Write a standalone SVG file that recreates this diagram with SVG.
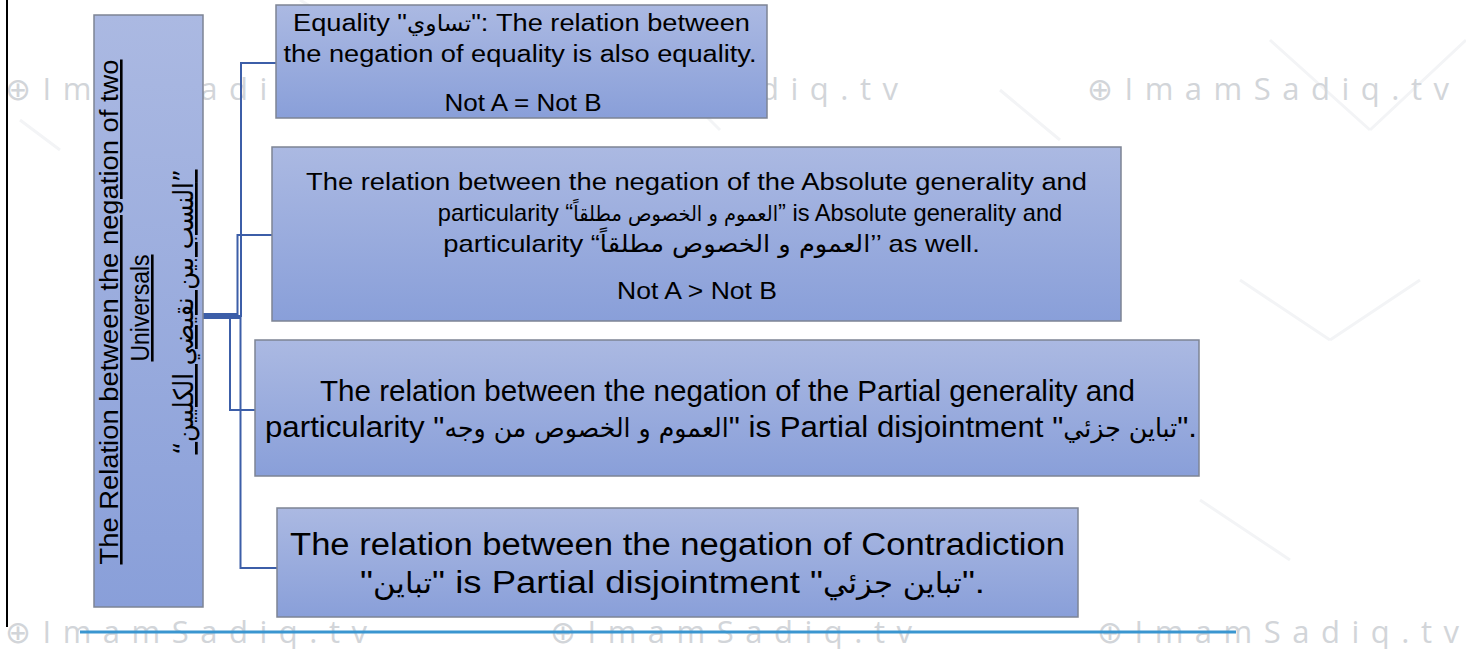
<svg xmlns="http://www.w3.org/2000/svg" width="1466" height="649" viewBox="0 0 1466 649">
<defs>
<linearGradient id="g" x1="0" y1="0" x2="0" y2="1">
<stop offset="0" stop-color="#abb9e2"/>
<stop offset="1" stop-color="#899fd9"/>
</linearGradient>
<style>
.box{fill:url(#g);stroke:#7d8494;stroke-width:1.5}
.t{font-family:"Liberation Sans","DejaVu Sans",sans-serif;fill:#000;text-anchor:middle}
.ar{font-family:"DejaVu Sans Condensed","DejaVu Sans",sans-serif;font-stretch:condensed}
.c{fill:none;stroke:#3c5ea8;stroke-width:2}
.wm{font-family:"Open Sans","Liberation Sans",sans-serif;font-size:31px;fill:#d2d5d9}
.bg{stroke:#f3f4f6;stroke-width:3;fill:none}
</style>
</defs>
<rect width="1466" height="649" fill="#fff"/>
<g id="background">
<path class="bg" d="M300 0 L350 30 M680 90 L720 130 M1270 40 L1370 130 M1370 130 L1466 40 M20 120 L60 150 M1000 90 L1060 140 M1240 280 L1330 340 M1330 340 L1420 280 M1200 500 L1290 560"/>
</g>
<g id="watermarks">
<text class="wm" x="5" y="100" textLength="362" lengthAdjust="spacing">⊕ImamSadiq.tv</text>
<text class="wm" x="536" y="100" textLength="362" lengthAdjust="spacing">⊕ImamSadiq.tv</text>
<text class="wm" x="1087" y="100" textLength="362" lengthAdjust="spacing">⊕ImamSadiq.tv</text>
<text class="wm" x="5" y="643" textLength="362" lengthAdjust="spacing">⊕ImamSadiq.tv</text>
<text class="wm" x="550" y="643" textLength="362" lengthAdjust="spacing">⊕ImamSadiq.tv</text>
<text class="wm" x="1097" y="643" textLength="362" lengthAdjust="spacing">⊕ImamSadiq.tv</text>
</g>
<line x1="7" y1="0" x2="7" y2="627" stroke="#000" stroke-width="2"/>
<line x1="80" y1="632" x2="1236" y2="632" stroke="#3a96d0" stroke-width="3"/>
<g id="connectors">
<path class="c" d="M203 316 H241 V63 H276"/>
<path class="c" d="M203 314 H237.5 V235 H272"/>
<path class="c" d="M203 318 H230 V410 H255"/>
<path class="c" d="M203 318 H240.5 V568 H277"/>
</g>
<g id="root">
<rect class="box" x="94" y="15" width="109" height="592"/>
<text class="t" font-size="26" text-decoration="underline" transform="translate(118,312) rotate(-90)" textLength="505" lengthAdjust="spacingAndGlyphs">The Relation between the negation of two</text>
<text class="t" font-size="26" text-decoration="underline" transform="translate(149,308) rotate(-90)" textLength="107" lengthAdjust="spacingAndGlyphs">Universals</text>
<text class="t ar" font-size="27" text-decoration="underline" transform="translate(193,312) rotate(-90)" textLength="285" lengthAdjust="spacingAndGlyphs">“النسب بين نقيضي الكليين”</text>
</g>
<g id="node1">
<rect class="box" x="276" y="5" width="491" height="113"/>
<text class="t" font-size="23" x="521.5" y="31" textLength="457" lengthAdjust="spacingAndGlyphs">Equality "<tspan class="ar" font-size="22">تساوي</tspan>": The relation between</text>
<text class="t" font-size="23" x="520" y="62" textLength="473" lengthAdjust="spacingAndGlyphs">the negation of equality is also equality.</text>
<text class="t" font-size="23" x="523" y="111" textLength="157" lengthAdjust="spacingAndGlyphs">Not A = Not B</text>
</g>
<g id="node2">
<rect class="box" x="272" y="147" width="849" height="174"/>
<text class="t" font-size="23" x="696.5" y="190" textLength="781" lengthAdjust="spacingAndGlyphs">The relation between the negation of the Absolute generality and</text>
<text class="t" font-size="23" transform="translate(750,221) scale(1.03,1)">particularity “<tspan class="ar" font-size="21">العموم و الخصوص مطلقاً</tspan>” is Absolute generality and</text>
<text class="t" font-size="23" transform="translate(711.5,252) scale(1.19,1)">particularity “<tspan class="ar" font-size="24">العموم و الخصوص مطلقاً</tspan>’’ as well.</text>
<text class="t" font-size="23" x="697" y="299" textLength="160" lengthAdjust="spacingAndGlyphs">Not A &gt; Not B</text>
</g>
<g id="node3">
<rect class="box" x="255" y="340" width="944" height="136"/>
<text class="t" font-size="29" x="727.5" y="401" textLength="815" lengthAdjust="spacingAndGlyphs">The relation between the negation of the Partial generality and</text>
<text class="t" font-size="29" x="731" y="437" textLength="932" lengthAdjust="spacingAndGlyphs">particularity "<tspan class="ar" font-size="26">العموم و الخصوص من وجه</tspan>" is Partial disjointment "<tspan class="ar" font-size="26">تباين جزئي</tspan>".</text>
</g>
<g id="node4">
<rect class="box" x="277" y="508" width="801" height="109"/>
<text class="t" font-size="31" x="677.5" y="555" textLength="775" lengthAdjust="spacingAndGlyphs">The relation between the negation of Contradiction</text>
<text class="t" font-size="31" x="672.5" y="593" textLength="625" lengthAdjust="spacingAndGlyphs">"<tspan class="ar" font-size="29">تباين</tspan>" is Partial disjointment "<tspan class="ar" font-size="29">تباين جزئي</tspan>".</text>
</g>
</svg>
